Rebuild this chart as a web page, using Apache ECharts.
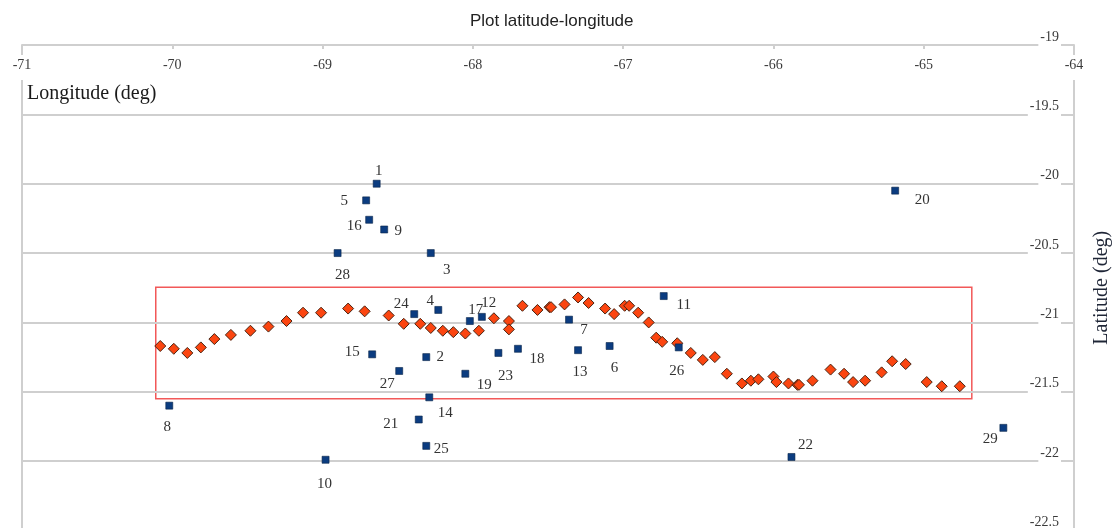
<!DOCTYPE html>
<html><head><meta charset="utf-8">
<script src="https://cdn.jsdelivr.net/npm/echarts@6/dist/echarts.min.js"></script>
<style>html,body{margin:0;padding:0;background:#fff}#c{width:1116px;height:528px}</style>
</head><body><div id="c"></div>
<script>
// ---- data ----
const pointIds = [1,2,3,4,5,6,7,8,9,10,11,12,13,14,15,16,17,18,19,20,21,22,23,24,25,26,27,28,29];
const pointLon = [-68.64,-68.31,-68.28,-68.23,-68.71,-67.09,-67.36,-70.02,-68.59,-68.98,-66.73,-67.94,-67.30,-68.29,-68.67,-68.69,-68.02,-67.70,-68.05,-65.19,-68.36,-65.88,-67.83,-68.39,-68.31,-66.63,-68.49,-68.90,-64.47];
const pointLat = [-20.00,-21.25,-20.50,-20.91,-20.12,-21.17,-20.98,-21.60,-20.33,-21.99,-20.81,-20.96,-21.20,-21.54,-21.23,-20.26,-20.99,-21.19,-21.37,-20.05,-21.70,-21.97,-21.22,-20.94,-21.89,-21.18,-21.35,-20.50,-21.76];
const trackLon = [-70.08,-69.99,-69.90,-69.81,-69.72,-69.61,-69.48,-69.36,-69.24,-69.13,-69.01,-68.83,-68.72,-68.56,-68.46,-68.35,-68.28,-68.20,-68.13,-68.05,-67.96,-67.86,-67.76,-67.76,-67.67,-67.57,-67.49,-67.48,-67.39,-67.30,-67.23,-67.12,-67.06,-66.99,-66.96,-66.90,-66.83,-66.78,-66.74,-66.64,-66.55,-66.47,-66.39,-66.31,-66.21,-66.15,-66.10,-66.00,-65.98,-65.90,-65.84,-65.83,-65.74,-65.62,-65.53,-65.47,-65.39,-65.28,-65.21,-65.12,-64.98,-64.88,-64.76];
const trackLat = [-21.17,-21.19,-21.22,-21.18,-21.12,-21.09,-21.06,-21.03,-20.99,-20.93,-20.93,-20.90,-20.92,-20.95,-21.01,-21.01,-21.04,-21.06,-21.07,-21.08,-21.06,-20.97,-20.99,-21.05,-20.88,-20.91,-20.89,-20.89,-20.87,-20.82,-20.86,-20.90,-20.94,-20.88,-20.88,-20.93,-21.00,-21.11,-21.14,-21.15,-21.22,-21.27,-21.25,-21.37,-21.44,-21.42,-21.41,-21.39,-21.43,-21.44,-21.45,-21.45,-21.42,-21.34,-21.37,-21.43,-21.42,-21.36,-21.28,-21.30,-21.43,-21.46,-21.46];
const boxLon = [-70.11, -64.68];
const boxLat = [-20.747, -21.55];
const lonRange = [-71, -64];
const latRange = [-22.5, -19];
const lonStep = 1;
const latStep = 0.5;

// ---- styling (label placement offsets, px) ----
const labelOffsets = {
  1:[2,-13],2:[14,0],3:[16,17],4:[-8,-9],5:[-22,1],6:[5,22],7:[15,10],8:[-2,21],9:[14,2],10:[-1,24],
  11:[20,9],12:[7,-14],13:[2,22],14:[16,16],15:[-20,-2],16:[-15,6],17:[6,-11],18:[19,10],19:[19,11],20:[27,9],
  21:[-28,5],22:[14,-12],23:[7,23],24:[-13,-10],25:[15,3],26:[-2,24],27:[-12,13],28:[5,22],29:[-13,11]
};
const serif = '"Liberation Serif","DejaVu Serif",serif';
const gridColor = '#cfcfcf';

const pointData = pointIds.map((id, i) => ({
  value: [pointLon[i], pointLat[i]],
  name: String(id),
  label: { offset: labelOffsets[id] }
}));
const trackData = trackLon.map((x, i) => [x, trackLat[i]]);

const chart = echarts.init(document.getElementById('c'), null, {renderer: 'canvas'});
chart.setOption({
  animation: false,
  backgroundColor: '#fff',
  title: {
    text: 'Plot latitude-longitude', left: 465, top: 8,
    textStyle: { fontFamily: '"Liberation Sans",Arial,sans-serif', fontSize: 17, fontWeight: 'normal', color: '#222' }
  },
  graphic: [{
    type: 'text', left: 27, top: 84, z: 10,
    style: { text: 'Longitude (deg)', font: '20px ' + serif, fill: '#1a1a1a' }
  }],
  grid: { left: 22, right: 42, top: 45, bottom: -2.5, containLabel: false, outerBoundsMode: 'none' },
  xAxis: {
    type: 'value', position: 'top', min: lonRange[0], max: lonRange[1], interval: lonStep, z: 3,
    axisLine: { show: false },
    axisTick: { show: true, inside: true, length: 4, lineStyle: { color: gridColor, width: 2 } },
    axisLabel: {
      inside: true, margin: 10, showMinLabel: true, showMaxLabel: true,
      fontFamily: serif, fontSize: 14, color: '#3a3a3a',
      backgroundColor: '#fff', padding: [3, 2, 8, 2]
    },
    splitLine: { show: false }
  },
  yAxis: [{
    type: 'value', position: 'right', min: latRange[0], max: latRange[1], interval: latStep, z: 2,
    name: 'Latitude (deg)', nameLocation: 'middle', nameRotate: 90, nameGap: 18,
    nameTextStyle: { fontFamily: serif, fontSize: 20, color: '#1e2536' },
    axisLine: { show: true, lineStyle: { color: gridColor, width: 2 } },
    axisTick: { show: true, inside: true, length: 7, lineStyle: { color: gridColor, width: 2 } },
    axisLabel: {
      inside: true, margin: 13, showMinLabel: true, showMaxLabel: true,
      formatter: v => '{a|' + v + '}\n{b| }',
      backgroundColor: '#fff', padding: [0, 2, 0, 2], verticalAlign: 'middle',
      rich: {
        a: { fontFamily: serif, fontSize: 14, color: '#3a3a3a', lineHeight: 16 },
        b: { fontFamily: serif, fontSize: 10, lineHeight: 16 }
      }
    },
    splitLine: { show: true, showMinLine: true, showMaxLine: true, lineStyle: { color: gridColor, width: 2 } }
  }, {
    type: 'value', position: 'left', min: latRange[0], max: latRange[1], interval: latStep, z: 1,
    axisLine: { show: true, lineStyle: { color: gridColor, width: 2 } },
    axisTick: { show: false }, axisLabel: { show: false }, splitLine: { show: false }
  }],
  series: [{
    name: 'track', type: 'scatter', yAxisIndex: 0, z: 3,
    symbol: 'diamond', symbolSize: 11,
    itemStyle: { color: '#fb4510', borderColor: '#4a2412', borderWidth: 1, opacity: 1 },
    data: trackData,
    markArea: {
      silent: true,
      itemStyle: { color: 'rgba(0,0,0,0)', borderColor: '#f25858', borderWidth: 1.5 },
      data: [[{ coord: [boxLon[0], boxLat[0]] }, { coord: [boxLon[1], boxLat[1]] }]]
    }
  }, {
    name: 'points', type: 'scatter', yAxisIndex: 0, z: 4,
    symbol: 'rect', symbolSize: 7,
    itemStyle: { color: '#0b3c80', borderColor: '#0a2548', borderWidth: 0.6, opacity: 1 },
    label: {
      show: true, position: 'inside', formatter: p => p.name,
      fontFamily: serif, fontSize: 15, color: '#333'
    },
    data: pointData
  }]
});
</script></body></html>
